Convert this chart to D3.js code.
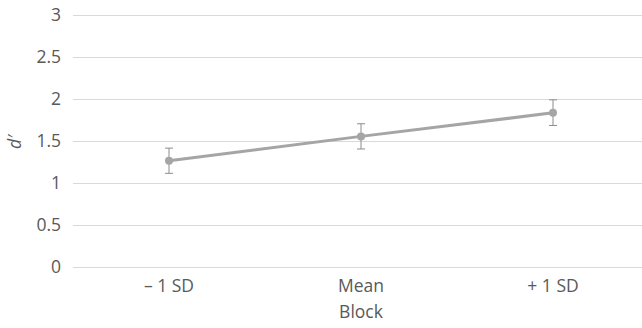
<!DOCTYPE html>
<html>
<head>
<meta charset="utf-8">
<script src="https://cdn.jsdelivr.net/npm/d3@7"></script>
<style>
  body { margin: 0; background: #fff; }
  text { font-family: "Open Sans", "Liberation Sans", sans-serif; fill: #595959; }
</style>
</head>
<body>
<div id="chart"></div>
<script>
// data
var categories = ["\u2013 1 SD", "Mean", "+ 1 SD"];
var means = [1.265, 1.555, 1.835];
var errLow = [1.115, 1.405, 1.685];
var errHigh = [1.415, 1.705, 1.99];
var yTicks = [0, 0.5, 1, 1.5, 2, 2.5, 3];

var width = 642, height = 328;
var mLeft = 73, mRight = 649, mTop = 15, mBottom = 267;
var fontSize = "17.5px";

var svg = d3.select("#chart").append("svg")
  .attr("width", width)
  .attr("height", height);

var x = d3.scaleBand().domain(categories).range([mLeft, mRight]);
var y = d3.scaleLinear().domain([0, 3]).range([mBottom, mTop]);

// gridlines
svg.selectAll(".grid")
  .data(yTicks)
  .enter()
  .append("line")
  .attr("x1", mLeft)
  .attr("x2", width)
  .attr("y1", d => y(d) + 0.5)
  .attr("y2", d => y(d) + 0.5)
  .style("stroke", "#d9d9d9")
  .style("stroke-width", 1);

// y tick labels
svg.selectAll(".ylab")
  .data(yTicks)
  .enter()
  .append("text")
  .attr("x", 61)
  .attr("y", d => y(d))
  .attr("dy", "0.35em")
  .attr("text-anchor", "end")
  .style("font-size", fontSize)
  .text(d => d);

// x labels
svg.selectAll(".xlab")
  .data(categories)
  .enter()
  .append("text")
  .attr("x", d => x(d) + x.bandwidth() / 2)
  .attr("y", 292)
  .attr("text-anchor", "middle")
  .style("font-size", fontSize)
  .text(d => d);

svg.append("text")
  .attr("x", 361)
  .attr("y", 318)
  .attr("text-anchor", "middle")
  .style("font-size", fontSize)
  .text("Block");

svg.append("text")
  .attr("transform", "translate(21,142) rotate(-90)")
  .attr("text-anchor", "middle")
  .style("font-size", fontSize)
  .style("font-style", "italic")
  .text("d\u2032");

var cx = (d, i) => x(categories[i]) + x.bandwidth() / 2;

// error bars
var eb = svg.selectAll(".err")
  .data(means)
  .enter()
  .append("g");
eb.append("line")
  .attr("x1", cx).attr("x2", cx)
  .attr("y1", (d, i) => y(errLow[i]))
  .attr("y2", (d, i) => y(errHigh[i]))
  .style("stroke", "#8c8c8c").style("stroke-width", 1);
eb.append("line")
  .attr("x1", (d, i) => cx(d, i) - 4).attr("x2", (d, i) => cx(d, i) + 4)
  .attr("y1", (d, i) => y(errLow[i])).attr("y2", (d, i) => y(errLow[i]))
  .style("stroke", "#8c8c8c").style("stroke-width", 1);
eb.append("line")
  .attr("x1", (d, i) => cx(d, i) - 4).attr("x2", (d, i) => cx(d, i) + 4)
  .attr("y1", (d, i) => y(errHigh[i])).attr("y2", (d, i) => y(errHigh[i]))
  .style("stroke", "#8c8c8c").style("stroke-width", 1);

// line
var line = d3.line()
  .x((d, i) => cx(d, i))
  .y(d => y(d));
svg.append("path")
  .datum(means)
  .attr("d", line)
  .style("fill", "none")
  .style("stroke", "#a5a5a5")
  .style("stroke-width", 3);

svg.selectAll(".pt")
  .data(means)
  .enter()
  .append("circle")
  .attr("cx", cx)
  .attr("cy", d => y(d))
  .attr("r", 4)
  .style("fill", "#a5a5a5");
</script>
</body>
</html>
